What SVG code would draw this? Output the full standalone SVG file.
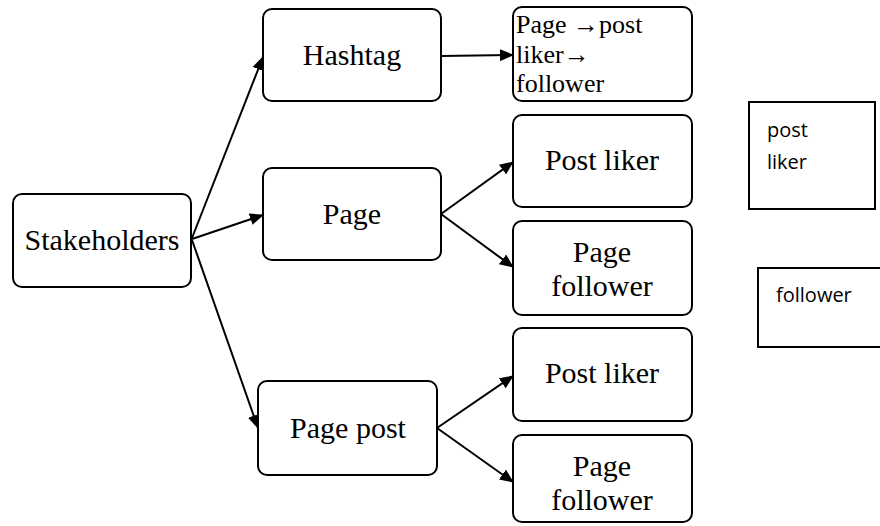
<svg xmlns="http://www.w3.org/2000/svg" width="880" height="526" viewBox="0 0 880 526">
<defs>
<style>
.box{fill:#fff;stroke:#000;stroke-width:2}
.sq{fill:#fff;stroke:#000;stroke-width:2}
.t{font-size:30px;fill:#000;text-anchor:middle}
.ts{font-size:26px;fill:#000}
.tn{font-size:20px;fill:#000}
.c{stroke:#000;stroke-width:2;fill:none;marker-end:url(#ah)}
</style>
<marker id="ah" markerUnits="userSpaceOnUse" markerWidth="14" markerHeight="12" refX="13" refY="6" orient="auto">
<path d="M0,0 L14,6 L0,12 Z" fill="#000"/>
</marker>
</defs>
<rect width="880" height="526" fill="#fff"/>
<g id="connectors">
<line class="c" x1="192" y1="238" x2="263" y2="57"/>
<line class="c" x1="192" y1="239" x2="263" y2="215"/>
<line class="c" x1="192" y1="240" x2="258" y2="428"/>
<line class="c" x1="441" y1="56" x2="513" y2="55"/>
<line class="c" x1="441" y1="214" x2="513" y2="162"/>
<line class="c" x1="441" y1="214" x2="513" y2="267"/>
<line class="c" x1="437" y1="428" x2="513" y2="376"/>
<line class="c" x1="437" y1="428" x2="513" y2="482"/>
</g>
<g font-family="Liberation Serif, DejaVu Serif, serif">
<g id="stakeholders">
<rect class="box" x="13" y="194" width="178" height="93" rx="9"/>
<text class="t" x="102" y="250">Stakeholders</text>
</g>
<g id="hashtag">
<rect class="box" x="263" y="9" width="178" height="92" rx="9"/>
<text class="t" x="352" y="65">Hashtag</text>
</g>
<g id="page">
<rect class="box" x="263" y="168" width="178" height="92" rx="9"/>
<text class="t" x="352" y="224">Page</text>
</g>
<g id="pagepost">
<rect class="box" x="258" y="381" width="179" height="94" rx="9"/>
<text class="t" x="348" y="438">Page post</text>
</g>
<g id="hashtag-chain">
<rect class="box" x="513" y="7" width="179" height="94" rx="9"/>
<text class="ts" x="516" y="33">Page →post</text>
<text class="ts" x="516" y="63">liker→</text>
<text class="ts" x="516" y="92">follower</text>
</g>
<g id="postliker1">
<rect class="box" x="513" y="115" width="179" height="92" rx="9"/>
<text class="t" x="602" y="170">Post liker</text>
</g>
<g id="pagefollower1">
<rect class="box" x="513" y="221" width="179" height="94" rx="9"/>
<text class="t" x="602" y="262">Page</text>
<text class="t" x="602" y="296">follower</text>
</g>
<g id="postliker2">
<rect class="box" x="513" y="328" width="179" height="93" rx="9"/>
<text class="t" x="602" y="383">Post liker</text>
</g>
<g id="pagefollower2">
<rect class="box" x="513" y="435" width="179" height="87" rx="9"/>
<text class="t" x="602" y="476">Page</text>
<text class="t" x="602" y="510">follower</text>
</g>
</g>
<g font-family="Open Sans, Noto Sans, sans-serif">
<g id="postliker-note">
<rect class="sq" x="749" y="102" width="126" height="107"/>
<text class="tn" x="767" y="137">post</text>
<text class="tn" x="767" y="169">liker</text>
</g>
<g id="follower-note">
<rect class="sq" x="758" y="268" width="130" height="79"/>
<text class="tn" x="776" y="302">follower</text>
</g>
</g>
</svg>
